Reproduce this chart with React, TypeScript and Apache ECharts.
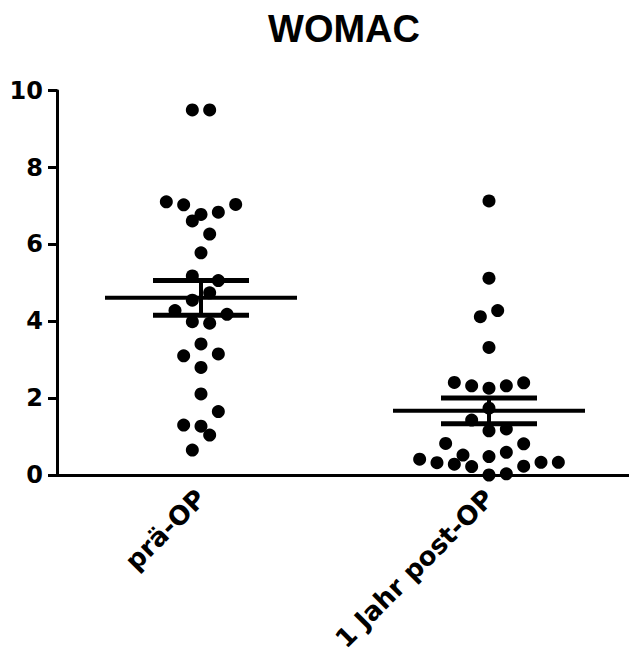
import React, { useEffect, useRef } from 'react';
import * as echarts from 'echarts';

const chartTitle = 'WOMAC';
const categories = ['prä-OP', '1 Jahr post-OP'];
const yMin = 0;
const yMax = 10;
const yInterval = 2;

// prä-OP values and their horizontal slot within the column (in half-dot steps)
const preValues = [9.5, 9.5, 7.11, 7.03, 7.04, 6.84, 6.78, 6.61, 6.27, 5.78, 5.18, 5.06, 4.74, 4.55, 4.28, 4.18, 3.99, 3.95, 3.41, 3.1, 3.15, 2.8, 2.11, 1.65, 1.3, 1.27, 1.04, 0.65];
const preSlots = [-1, 1, -4, -2, 4, 2, 0, -1, 1, 0, -1, 2, 1, -1, -3, 3, -1, 1, 0, -2, 2, 0, 0, 2, -2, 0, 1, -1];

// 1 Jahr post-OP values and slots
const postValues = [7.13, 5.12, 4.28, 4.12, 3.32, 2.41, 2.32, 2.26, 2.32, 2.4, 1.74, 1.43, 1.15, 1.2, 0.82, 0.81, 0.59, 0.52, 0.48, 0.41, 0.32, 0.28, 0.22, 0.23, 0.33, 0.33, 0.0, 0.03];
const postSlots = [0, 0, 1, -1, 0, -4, -2, 0, 2, 4, 0, -2, 0, 2, -5, 4, 2, -3, 0, -8, -6, -4, -2, 4, 6, 8, 0, 2];

// mean ± SEM per group
const means = [4.61, 1.67];
const sems = [0.45, 0.335];

export default function App() {
  const ref = useRef<HTMLDivElement>(null);
  useEffect(() => {
    const chart = echarts.init(ref.current!, null, { renderer: 'svg' });
    const titleFont = '"Liberation Sans", Arial, Helvetica, sans-serif';
    const axisFont = '"DejaVu Sans", Verdana, sans-serif';
    const step = 0.0301;
    const dots: number[][] = [];
    preValues.forEach((v, i) => dots.push([0.5 + preSlots[i] * step, v]));
    postValues.forEach((v, i) => dots.push([1.5 + postSlots[i] * step, v]));
    const bars = means.map((m, i) => [i + 0.5, m, sems[i]]);

    chart.setOption({
      animation: false,
      graphic: [
        {
          type: 'text',
          x: 344,
          y: 29,
          style: {
            text: chartTitle,
            fontSize: 38,
            fontWeight: 'bold',
            fontFamily: titleFont,
            fill: '#000',
            align: 'center',
            verticalAlign: 'middle',
          },
        },
      ],
      grid: {
        left: 57,
        right: -4,
        top: 90.7,
        bottom: 173,
        containLabel: false,
        outerBoundsMode: 'none',
      },
      xAxis: [
        {
          type: 'category',
          data: categories,
          boundaryGap: true,
          axisLine: { lineStyle: { color: '#000', width: 3 } },
          axisTick: { alignWithLabel: true, length: 10, lineStyle: { color: '#000', width: 3 } },
          axisLabel: {
            interval: 0,
            rotate: 45,
            margin: 19,
            fontSize: 26,
            fontWeight: 'bold',
            fontFamily: axisFont,
            color: '#000',
          },
        },
        { type: 'value', min: 0, max: 2, show: false },
      ],
      yAxis: {
        type: 'value',
        min: yMin,
        max: yMax,
        interval: yInterval,
        splitLine: { show: false },
        axisLine: { show: true, onZero: false, lineStyle: { color: '#000', width: 3 } },
        axisTick: { show: true, length: 9, lineStyle: { color: '#000', width: 3 } },
        axisLabel: {
          margin: 14,
          fontSize: 24,
          fontWeight: 'bold',
          fontFamily: axisFont,
          color: '#000',
        },
      },
      series: [
        {
          type: 'scatter',
          xAxisIndex: 1,
          data: dots,
          symbol: 'circle',
          symbolSize: 13,
          itemStyle: { color: '#000', opacity: 1 },
          emphasis: { disabled: true },
        },
        {
          type: 'custom',
          xAxisIndex: 1,
          data: bars,
          renderItem: (params: any, api: any) => {
            const x = api.value(0);
            const m = api.value(1);
            const s = api.value(2);
            const p = (xx: number, yy: number) => api.coord([xx, yy]);
            const mk = (a: number[], b: number[], w: number) => ({
              type: 'line',
              shape: { x1: a[0], y1: a[1], x2: b[0], y2: b[1] },
              style: { stroke: '#000', lineWidth: w },
            });
            return {
              type: 'group',
              children: [
                mk(p(x - 1 / 3, m), p(x + 1 / 3, m), 4),
                mk(p(x - 1 / 6, m + s), p(x + 1 / 6, m + s), 5),
                mk(p(x - 1 / 6, m - s), p(x + 1 / 6, m - s), 5),
                mk(p(x, m - s), p(x, m + s), 4),
              ],
            };
          },
        },
      ],
    });
    return () => chart.dispose();
  }, []);
  return (
    <div
      ref={ref}
      style={{ position: 'absolute', left: 0, top: 0, width: 629, height: 648 }}
    />
  );
}
